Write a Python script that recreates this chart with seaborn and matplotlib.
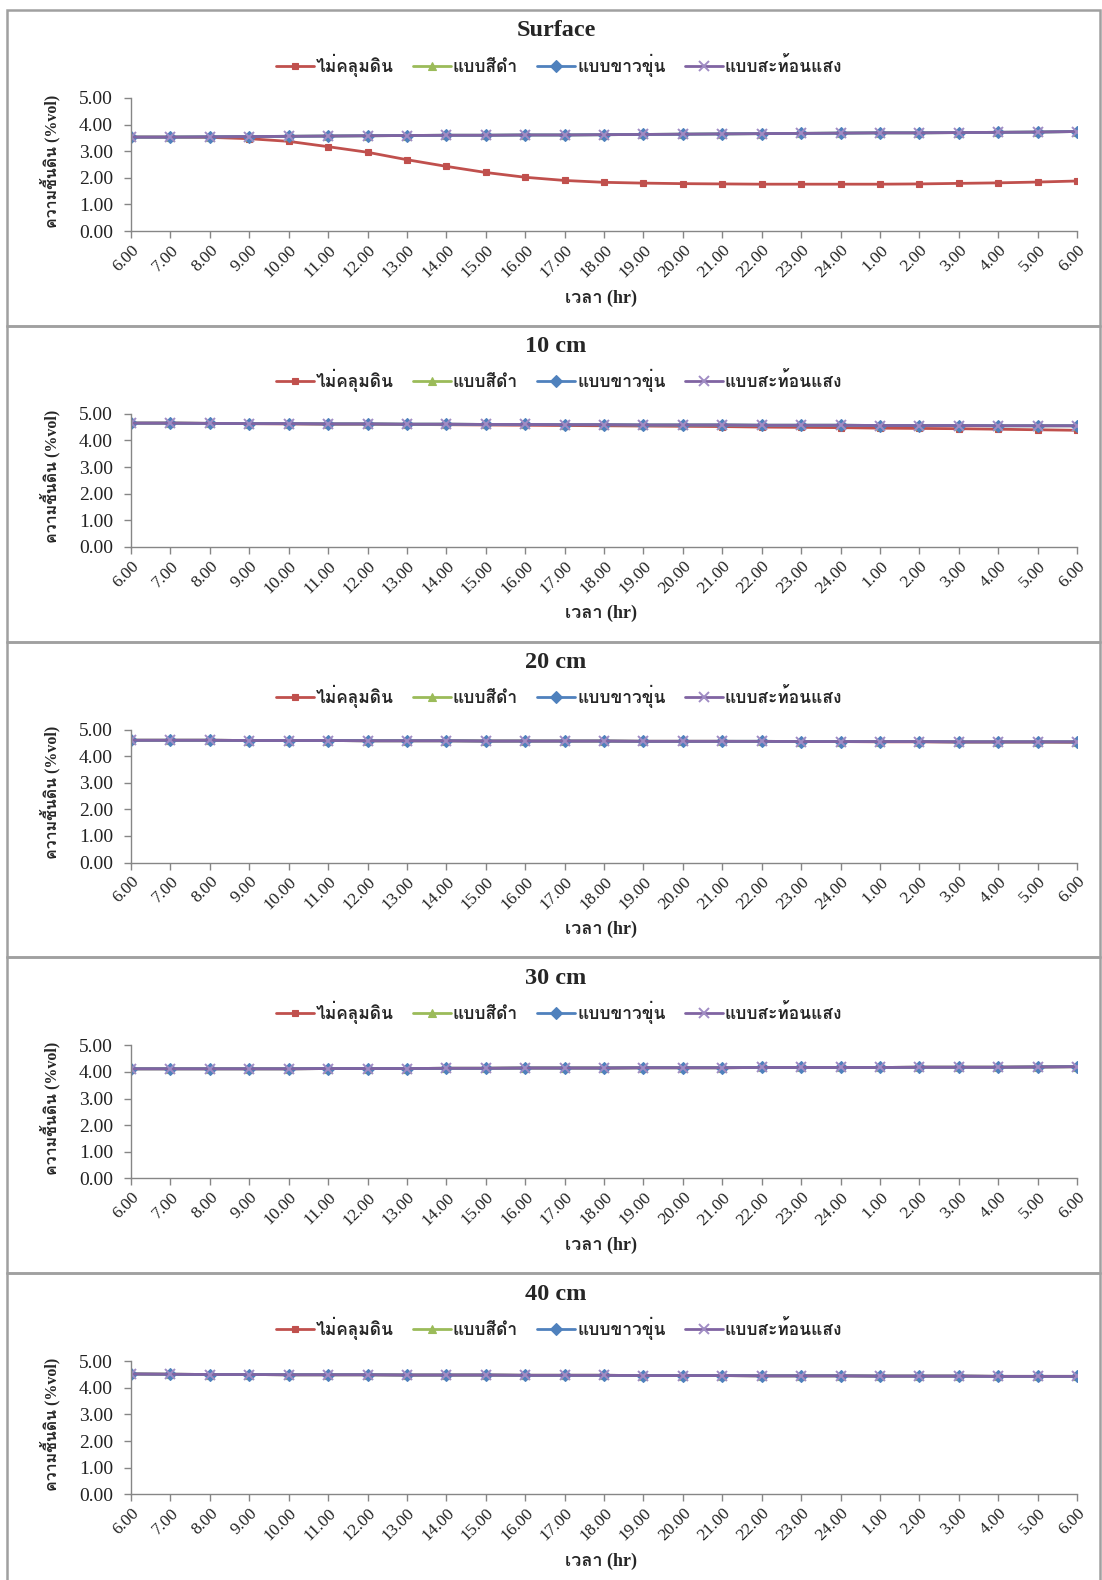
import numpy as np
import pandas as pd
import matplotlib
matplotlib.use("Agg")
import matplotlib.pyplot as plt
import seaborn as sns
from matplotlib import font_manager
from matplotlib.ft2font import FT2Font
from matplotlib.lines import Line2D
from matplotlib.patches import Rectangle

# ---- data -------------------------------------------------------------
time_labels = ["6.00", "7.00", "8.00", "9.00", "10.00", "11.00", "12.00",
               "13.00", "14.00", "15.00", "16.00", "17.00", "18.00", "19.00",
               "20.00", "21.00", "22.00", "23.00", "24.00", "1.00", "2.00",
               "3.00", "4.00", "5.00", "6.00"]

series_names = ["ไม่คลุมดิน", "แบบสีดำ", "แบบขาวขุ่น", "แบบสะท้อนแสง"]
depth_titles = ["Surface", "10 cm", "20 cm", "30 cm", "40 cm"]

surface_bare = [3.53, 3.53, 3.52, 3.47, 3.37, 3.17, 2.96, 2.68, 2.43, 2.20,
                2.02, 1.90, 1.83, 1.80, 1.78, 1.77, 1.76, 1.76, 1.76, 1.76,
                1.77, 1.79, 1.81, 1.84, 1.88]
surface_black = [3.53, 3.53, 3.54, 3.55, 3.56, 3.57, 3.58, 3.59, 3.60, 3.60,
                 3.61, 3.61, 3.62, 3.63, 3.64, 3.65, 3.66, 3.67, 3.68, 3.69,
                 3.69, 3.70, 3.71, 3.72, 3.74]
surface_white = [3.53, 3.53, 3.54, 3.55, 3.56, 3.57, 3.58, 3.59, 3.60, 3.60,
                 3.61, 3.61, 3.62, 3.63, 3.64, 3.65, 3.66, 3.67, 3.68, 3.69,
                 3.69, 3.70, 3.71, 3.72, 3.74]
surface_reflect = [3.53, 3.53, 3.54, 3.55, 3.56, 3.57, 3.58, 3.59, 3.60, 3.60,
                   3.61, 3.61, 3.62, 3.63, 3.64, 3.65, 3.66, 3.67, 3.68, 3.69,
                   3.69, 3.70, 3.71, 3.72, 3.74]

cm10_bare = [4.65, 4.65, 4.64, 4.63, 4.62, 4.61, 4.61, 4.60, 4.59, 4.58,
             4.57, 4.56, 4.55, 4.54, 4.53, 4.52, 4.50, 4.49, 4.48, 4.46,
             4.45, 4.44, 4.42, 4.40, 4.38]
cm10_black = [4.65, 4.65, 4.64, 4.63, 4.63, 4.62, 4.62, 4.61, 4.61, 4.60,
              4.60, 4.59, 4.59, 4.58, 4.58, 4.58, 4.57, 4.57, 4.57, 4.56,
              4.56, 4.56, 4.55, 4.55, 4.55]
cm10_white = [4.65, 4.65, 4.64, 4.63, 4.63, 4.62, 4.62, 4.61, 4.61, 4.60,
              4.60, 4.59, 4.59, 4.58, 4.58, 4.58, 4.57, 4.57, 4.57, 4.56,
              4.56, 4.56, 4.55, 4.55, 4.55]
cm10_reflect = [4.65, 4.65, 4.64, 4.63, 4.63, 4.62, 4.62, 4.61, 4.61, 4.60,
                4.60, 4.59, 4.59, 4.58, 4.58, 4.58, 4.57, 4.57, 4.57, 4.56,
                4.56, 4.56, 4.55, 4.55, 4.55]

cm20_bare = [4.60, 4.60, 4.60, 4.59, 4.59, 4.59, 4.58, 4.58, 4.58, 4.57,
             4.57, 4.57, 4.57, 4.56, 4.56, 4.56, 4.55, 4.55, 4.55, 4.54,
             4.54, 4.53, 4.53, 4.53, 4.52]
cm20_black = [4.60, 4.60, 4.60, 4.59, 4.59, 4.59, 4.58, 4.58, 4.58, 4.57,
              4.57, 4.57, 4.57, 4.56, 4.56, 4.56, 4.56, 4.55, 4.55, 4.55,
              4.55, 4.54, 4.54, 4.54, 4.54]
cm20_white = [4.60, 4.60, 4.60, 4.59, 4.59, 4.59, 4.58, 4.58, 4.58, 4.57,
              4.57, 4.57, 4.57, 4.56, 4.56, 4.56, 4.56, 4.55, 4.55, 4.55,
              4.55, 4.54, 4.54, 4.54, 4.54]
cm20_reflect = [4.60, 4.60, 4.60, 4.59, 4.59, 4.59, 4.58, 4.58, 4.58, 4.57,
                4.57, 4.57, 4.57, 4.56, 4.56, 4.56, 4.56, 4.55, 4.55, 4.55,
                4.55, 4.54, 4.54, 4.54, 4.54]

cm30_bare = [4.12, 4.12, 4.12, 4.12, 4.12, 4.13, 4.13, 4.13, 4.14, 4.14,
             4.15, 4.15, 4.15, 4.16, 4.16, 4.16, 4.17, 4.17, 4.17, 4.17,
             4.18, 4.18, 4.18, 4.19, 4.20]
cm30_black = [4.12, 4.12, 4.12, 4.12, 4.12, 4.13, 4.13, 4.13, 4.14, 4.14,
              4.15, 4.15, 4.15, 4.16, 4.16, 4.16, 4.17, 4.17, 4.17, 4.17,
              4.18, 4.18, 4.18, 4.19, 4.20]
cm30_white = [4.12, 4.12, 4.12, 4.12, 4.12, 4.13, 4.13, 4.13, 4.14, 4.14,
              4.15, 4.15, 4.15, 4.16, 4.16, 4.16, 4.17, 4.17, 4.17, 4.17,
              4.18, 4.18, 4.18, 4.19, 4.20]
cm30_reflect = [4.12, 4.12, 4.12, 4.12, 4.12, 4.13, 4.13, 4.13, 4.14, 4.14,
                4.15, 4.15, 4.15, 4.16, 4.16, 4.16, 4.17, 4.17, 4.17, 4.17,
                4.18, 4.18, 4.18, 4.19, 4.20]

cm40_bare = [4.52, 4.51, 4.50, 4.50, 4.49, 4.49, 4.49, 4.48, 4.48, 4.48,
             4.47, 4.47, 4.47, 4.46, 4.46, 4.46, 4.45, 4.45, 4.45, 4.44,
             4.44, 4.44, 4.43, 4.43, 4.43]
cm40_black = [4.52, 4.51, 4.50, 4.50, 4.49, 4.49, 4.49, 4.48, 4.48, 4.48,
              4.47, 4.47, 4.47, 4.46, 4.46, 4.46, 4.45, 4.45, 4.45, 4.44,
              4.44, 4.44, 4.43, 4.43, 4.43]
cm40_white = [4.52, 4.51, 4.50, 4.50, 4.49, 4.49, 4.49, 4.48, 4.48, 4.48,
              4.47, 4.47, 4.47, 4.46, 4.46, 4.46, 4.45, 4.45, 4.45, 4.44,
              4.44, 4.44, 4.43, 4.43, 4.43]
cm40_reflect = [4.52, 4.51, 4.50, 4.50, 4.49, 4.49, 4.49, 4.48, 4.48, 4.48,
                4.47, 4.47, 4.47, 4.46, 4.46, 4.46, 4.45, 4.45, 4.45, 4.44,
                4.44, 4.44, 4.43, 4.43, 4.43]

panels = [
    [surface_bare, surface_black, surface_white, surface_reflect],
    [cm10_bare, cm10_black, cm10_white, cm10_reflect],
    [cm20_bare, cm20_black, cm20_white, cm20_reflect],
    [cm30_bare, cm30_black, cm30_white, cm30_reflect],
    [cm40_bare, cm40_black, cm40_white, cm40_reflect],
]

y_label = "ความชื้นดิน (%vol)"
x_label = "เวลา (hr)"

# ---- styling ----------------------------------------------------------
sns.set_theme(style="white")


def thai_families():
    """Installed families that carry Thai glyphs."""
    found = []
    for entry in font_manager.fontManager.ttflist:
        if entry.name in found:
            continue
        try:
            cmap = FT2Font(entry.fname).get_charmap()
        except Exception:
            continue
        if 0x0E04 in cmap and 0x0E31 in cmap:
            found.append(entry.name)
    return found


families = ["Liberation Serif"] + thai_families() + ["DejaVu Sans"]
plt.rcParams["font.family"] = families

colors = ["#C0504D", "#9BBB59", "#4F81BD", "#8064A2"]
marker_colors = ["#C0504D", "#9BBB59", "#4F81BD", "#A08CC4"]
markers = ["s", "^", "D", "x"]
msizes = [5.0, 5.5, 6.0, 7.5]
medge = [0.8, 0.8, 0.8, 1.4]
axis_gray = "#868686"

W, H = 1102, 1580
fig = plt.figure(figsize=(W / 100, H / 100), dpi=100)
fig.patch.set_facecolor("white")

band = 315.8
top0 = 10
left_px, right_px = 131, 1077
positions = np.arange(len(time_labels))

for i, (title, series) in enumerate(zip(depth_titles, panels)):
    btop = top0 + band * i

    # chart frame
    fig.patches.append(Rectangle((7 / W, 1 - (btop + band) / H),
                                 (1100 - 7) / W, band / H,
                                 transform=fig.transFigure, fill=False,
                                 edgecolor="#A0A0A0", linewidth=1.8,
                                 zorder=0))

    ax = fig.add_axes([left_px / W, 1 - (btop + 221) / H,
                       (right_px - left_px) / W, 133 / H])

    frame = pd.DataFrame({"pos": positions})
    for name, vals, c, mc, m, ms, me in zip(series_names, series, colors,
                                            marker_colors, markers, msizes,
                                            medge):
        frame["val"] = vals
        sns.lineplot(data=frame, x="pos", y="val", ax=ax, color=c,
                     marker=m, markersize=ms, linewidth=2.0,
                     markeredgecolor=mc, markerfacecolor=mc,
                     markeredgewidth=me, sort=False, legend=False)

    ax.set_xlim(0, len(time_labels) - 1)
    ax.set_ylim(0, 5)
    ax.set_yticks(np.arange(0, 5.01, 1.0))
    ax.set_yticklabels([f"{v:.2f}" for v in np.arange(0, 5.01, 1.0)],
                       fontsize=14)
    ax.set_xticks(positions)
    ax.set_xticklabels(time_labels, rotation=45, ha="right",
                       rotation_mode="anchor", fontsize=12.5)
    ax.set_xlabel("")
    ax.set_ylabel("")
    for side in ("top", "right"):
        ax.spines[side].set_visible(False)
    for side in ("left", "bottom"):
        ax.spines[side].set_color(axis_gray)
        ax.spines[side].set_linewidth(1.0)
    ax.tick_params(axis="both", which="major", direction="out", length=5,
                   width=1.0, color=axis_gray, labelcolor="#222222",
                   left=True, bottom=True)
    ax.tick_params(axis="y", pad=8)
    ax.tick_params(axis="x", pad=3)
    ax.grid(False)

    # title, legend, axis titles
    fig.text(556 / W, 1 - (btop + 21) / H, title, ha="center", va="center",
             fontsize=17.5, fontweight="bold")
    handles = [Line2D([0], [0], color=c, marker=m, markersize=ms,
                      markeredgecolor=mc, markerfacecolor=mc,
                      markeredgewidth=me, linewidth=2.0)
               for c, mc, m, ms, me in zip(colors, marker_colors, markers,
                                           msizes, medge)]
    fig.legend(handles, series_names, loc="center",
               bbox_to_anchor=(559 / W, 1 - (btop + 55) / H), ncol=4,
               frameon=False, handlelength=2.2, handletextpad=0.1,
               columnspacing=1.1, prop={"size": 12.5, "weight": "bold"})
    fig.text(601 / W, 1 - (btop + 288) / H, x_label, ha="center",
             va="center", fontsize=13, fontweight="bold")
    fig.text(50 / W, 1 - (btop + 151) / H, y_label, ha="center",
             va="center", rotation=90, fontsize=11.5, fontweight="bold")

fig.savefig("out.png", dpi=100, facecolor="white")
